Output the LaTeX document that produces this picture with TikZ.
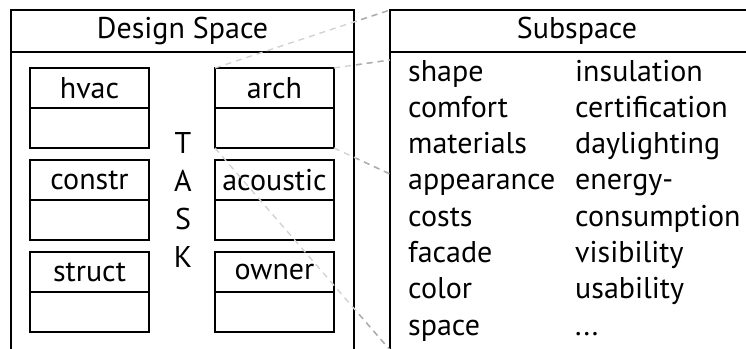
\documentclass[tikz,border=0pt]{standalone}
\usepackage{fontspec}
\setmainfont{PT Sans}
\usetikzlibrary{positioning}

\newcommand{\moredots}{...}

\tikzset{
    frame/.style={line width=2.8pt},
    head/.style={draw, frame, minimum height=42pt, inner sep=0pt, outer sep=0pt},
    cell/.style={draw, frame, minimum width=119pt, minimum height=40pt, inner sep=0pt, outer sep=0pt},
    zoomline/.style={line width=1.4pt, dash pattern=on 6pt off 5pt},
}

\begin{document}
\begin{tikzpicture}[x=1pt, y=-1pt, font=\fontsize{30}{36}\selectfont]
    \useasboundingbox (0,0) rectangle (746,348);
    \clip (0,0) rectangle (746,348);
    \coordinate (floor) at (0,352);

    % Headers
    \node[head, minimum width=343pt] (design) at (182.5,31) {Design Space};
    \node[head, minimum width=374pt] (sub) at (577,31) {Subspace};

    % Open frames
    \draw[frame] (design.south west) -- (design.south west |- floor);
    \draw[frame] (design.south east) -- (design.south east |- floor);
    \draw[frame] (sub.south west) -- (sub.south west |- floor);

    % Task boxes
    \foreach \name/\x/\y in {hvac/89.5/88, constr/89.5/180, struct/89.5/272,
                             arch/274.5/88, acoustic/274.5/180, owner/274.5/272} {
        \node[cell] (\name) at (\x,\y) {\name};
        \node[cell, below=0pt of \name] (\name-b) {};
    }

    % TASK
    \node[align=center, font=\fontsize{30}{38}\selectfont] (task) at (183,200) {T\\A\\S\\K};

    % Subspace entries
    \foreach \aspect/\more [count=\i] in {shape/insulation, comfort/certification,
            materials/daylighting, appearance/energy-, costs/consumption,
            facade/visibility, color/usability, space/\moredots} {
        \node[anchor=base west, inner sep=0pt] (asp\i) at (408, {81+36.3*(\i-1)}) {\aspect};
        \node[anchor=base west, inner sep=0pt] (more\i) at (575, {81+36.3*(\i-1)}) {\more};
    }

    % Zoom lines
    \coordinate (tr) at (390,60);
    \coordinate (br) at (390,174);
    \coordinate (bl) at (390,350);
    \foreach \c in {gray!35} {
        \draw[zoomline, \c] (arch.north west) -- (sub.north west);
        \draw[zoomline, \c] (arch.north east) -- (tr);
        \draw[zoomline, \c] (arch-b.south east) -- (br);
        \draw[zoomline, \c] (arch-b.south west) -- (bl);
    }
    \begin{scope}
        \clip (356,0) rectangle (389,348);
        \draw[zoomline, gray!65] (arch.north west) -- (sub.north west);
        \draw[zoomline, gray!65] (arch.north east) -- (tr);
        \draw[zoomline, gray!65] (arch-b.south east) -- (br);
        \draw[zoomline, gray!65] (arch-b.south west) -- (bl);
    \end{scope}
\end{tikzpicture}
\end{document}
